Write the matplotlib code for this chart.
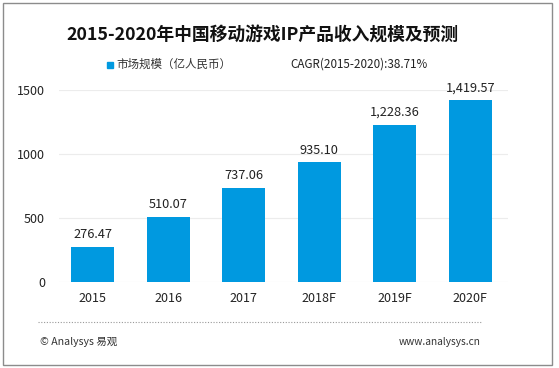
import matplotlib.pyplot as plt
from matplotlib.patches import Rectangle
from matplotlib.lines import Line2D

plt.rcParams['font.family'] = ['Noto Sans CJK SC', 'DejaVu Sans']

years = ['2015', '2016', '2017', '2018F', '2019F', '2020F']
revenue = [276.47, 510.07, 737.06, 935.10, 1228.36, 1419.57]
yticks = [0, 500, 1000, 1500]

bar_color = '#0099E0'

fig = plt.figure(figsize=(5.59, 3.68), dpi=100)
W, H = 559, 368

# axes in pixel coords: x 59..508, y 90(1500)..282(0)
ax = fig.add_axes([59 / W, 1 - 282 / H, (508 - 59) / W, (282 - 90) / H])
x = list(range(len(years)))
ax.bar(x, revenue, width=0.57, color=bar_color, zorder=3)
for xi, v in zip(x, revenue):
    ax.text(xi, v + 45, f'{v:,.2f}', ha='center', va='bottom', fontsize=9.2, color='#222222')

ax.set_ylim(0, 1500)
ax.set_xlim(-0.45, 5.5)
ax.set_yticks(yticks)
ax.set_xticks(x)
ax.set_xticklabels(years)
ax.tick_params(axis='both', length=0, labelsize=9, colors='#222222')
ax.tick_params(axis='y', pad=10)
ax.tick_params(axis='x', pad=7)
ax.yaxis.grid(True, color='#ececec', linewidth=0.8, zorder=0)
for s in ax.spines.values():
    s.set_visible(False)

# title and legend line
fig.text(262 / W, 1 - 36 / H, '2015-2020年中国移动游戏IP产品收入规模及预测',
         ha='center', va='center', fontsize=12.8, fontweight='bold', color='#111111')
fig.patches.append(Rectangle((107 / W, 1 - 68 / H), 6 / W, 6 / H,
                             transform=fig.transFigure, color=bar_color))
fig.text(116 / W, 1 - 64 / H, '市场规模（亿人民币）', ha='left', va='center',
         fontsize=8.3, color='#333333')
fig.text(290 / W, 1 - 64 / H, 'CAGR(2015-2020):38.71%', ha='left', va='center',
         fontsize=8.4, color='#222222')

# footer
fig.lines.append(Line2D([38 / W, 482 / W], [1 - 322 / H, 1 - 322 / H],
                        transform=fig.transFigure, color='#999999',
                        linewidth=0.8, linestyle=(0, (1, 1.5))))
fig.text(40 / W, 1 - 342 / H, '© Analysys 易观', ha='left', va='center',
         fontsize=7.6, color='#333333')
fig.text(481 / W, 1 - 342 / H, 'www.analysys.cn', ha='right', va='center',
         fontsize=7.3, color='#333333')

# outer frame
fig.patches.append(Rectangle((3 / W, 3 / H), (552 - 3) / W, (365 - 3) / H,
                             transform=fig.transFigure, fill=False,
                             edgecolor='#8c8c8c', linewidth=1))

fig.savefig('out.png', dpi=100)
